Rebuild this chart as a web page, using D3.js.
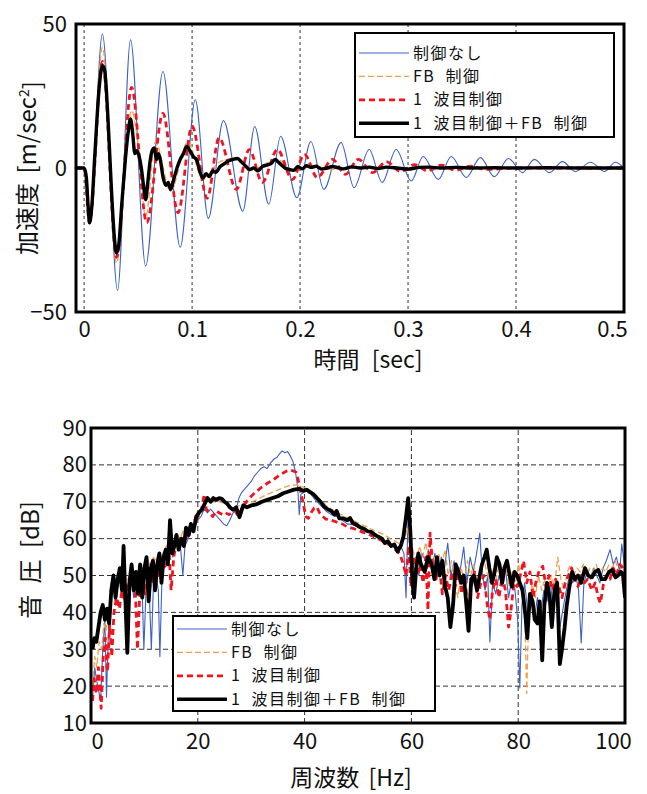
<!DOCTYPE html>
<meta charset="utf-8">
<script src="https://d3js.org/d3.v7.min.js"></script>
<style>
  body { margin: 0; background: #fff; }
  text { font-family: "Noto Sans CJK JP", "Noto Sans", sans-serif; fill: #111; }
</style>
<div id="chart"></div>
<script>

// legend entries (same order in both panels)
var seriesNames = ["制御なし", "FB 制御", "1 波目制御", "1 波目制御＋FB 制御"];

// ---- acceleration vs time ----
var timeTicks = [0, 0.1, 0.2, 0.3, 0.4, 0.5];
var accTicks = [-50, 0, 50];

var noCtrlT = [-0.0075,0.000,0.005,0.017,0.031,0.043,0.057,0.073,0.089,0.103,0.115,0.129,0.147,0.158,0.171,0.182,0.197,0.210,0.222,0.238,0.250,0.264,0.276,0.289,0.303,0.314,0.328,0.340,0.354,0.367,0.380,0.393,0.406,0.417,0.431,0.443,0.455,0.469,0.482,0.492,0.500];
var noCtrlAcc = [0,0,-19,46.5,-42.5,44.5,-34,33.5,-27.5,23.7,-17.5,16.5,-15,14.4,-12.6,11,-10.3,9.2,-7.4,8.8,-6.8,6.4,-5,6.4,-4.5,4,-4,4,-3.3,3.6,-3,3.3,-1.6,3,-1.6,2.2,-1.2,2,-1.2,2,0];

var fbT = [-0.0075,0.000,0.005,0.017,0.030,0.044,0.050,0.057,0.066,0.080,0.096,0.110,0.125,0.142,0.153,0.179,0.193,0.210,0.230,0.250,0.300,0.500];
var fbAcc = [0,0,-19,42,-33,20,8,-17,9,-8,9,-4,2,3.5,-1,3,-1,1,-0.5,0.5,0,0];

var firstT = [-0.0075,0.000,0.005,0.017,0.030,0.044,0.058,0.073,0.087,0.100,0.114,0.125,0.141,0.153,0.165,0.179,0.193,0.204,0.216,0.230,0.242,0.254,0.267,0.280,0.293,0.306,0.318,0.331,0.344,0.358,0.372,0.400,0.500];
var firstAcc = [0,0,-19,37,-31,28,-19,19,-15.5,14.5,-10.5,10.5,-7.4,6.4,-5,6.4,-4,4.7,-3.3,3,-2.2,3,-1.6,2.2,-1.2,1.2,-1,1,-0.8,0.6,-0.5,0,0];

var bothT = [-0.0075,0.000,0.002,0.004,0.005,0.007,0.010,0.014,0.017,0.019,0.022,0.025,0.028,0.030,0.032,0.035,0.038,0.041,0.043,0.045,0.047,0.049,0.051,0.053,0.055,0.057,0.059,0.061,0.063,0.065,0.067,0.069,0.071,0.073,0.076,0.078,0.080,0.083,0.086,0.089,0.092,0.095,0.098,0.101,0.104,0.107,0.110,0.113,0.116,0.119,0.122,0.126,0.130,0.134,0.138,0.142,0.146,0.150,0.153,0.157,0.161,0.165,0.169,0.173,0.177,0.180,0.183,0.186,0.190,0.194,0.198,0.202,0.206,0.210,0.215,0.220,0.225,0.230,0.235,0.240,0.248,0.256,0.264,0.272,0.280,0.290,0.300,0.310,0.320,0.330,0.345,0.360,0.380,0.400,0.430,0.460,0.500];
var bothAcc = [0,0,-3,-15,-19,-14,5,28,35.5,34,18,-5,-24,-29.5,-27,-12,2,13,17,12,5,6,4,0,-6,-11,-5,2,6,7,3,5,2,-3,-6,-5,-7.5,-4,0,3,5,7.5,6,4,3,-1,-3.5,-2,-3,-1,-1.5,0.5,1.5,2.5,3,3.3,2,0.5,-0.5,0,-1,0.5,1,1.5,3,2,1,0,-0.5,-0.8,0.5,-0.3,0.8,0.2,0.6,-0.4,0,0.5,0.1,-0.3,0.4,0,0.3,-0.2,0.3,0,-0.4,0.2,0.3,0,0.2,0,0.1,0,0.1,0,0];

// ---- sound pressure vs frequency ----
var freqTicks = [0, 20, 40, 60, 80, 100];
var dbTicks = [10, 20, 30, 40, 50, 60, 70, 80, 90];

var noCtrlF = [0.3,0.7,1.0,1.4,1.8,2.2,2.6,2.9,3.3,3.8,4.2,4.6,5.0,5.5,6.0,6.5,7.0,7.5,8.0,8.5,9.0,9.5,9.9,10.3,10.8,11.3,11.7,12.2,12.6,12.9,13.3,13.8,14.3,14.8,15.3,15.8,16.3,16.8,17.2,17.6,18.2,18.8,19.4,20.0,20.6,21.2,21.8,22.4,23.0,23.6,24.2,24.8,25.4,26.0,26.6,27.2,27.7,28.2,28.8,29.4,30.0,30.6,31.2,31.8,32.4,33.0,33.6,34.2,34.8,35.3,35.8,36.3,36.8,37.3,37.8,38.3,38.7,39.0,39.3,39.8,40.5,41.2,42.0,43.0,44.0,45.0,46.0,47.0,48.0,49.0,50.0,51.0,52.0,53.0,54.0,55.0,56.0,57.0,58.0,58.6,59.0,59.4,59.8,60.3,60.8,61.4,62.0,62.6,63.2,63.8,64.4,65.0,65.6,66.2,66.8,67.4,68.0,68.6,69.2,69.8,70.4,71.0,71.6,72.2,72.8,73.3,73.8,74.3,74.7,75.2,75.8,76.4,77.0,77.6,78.2,78.8,79.4,79.9,80.3,80.7,81.2,81.8,82.4,83.0,83.6,84.2,84.8,85.4,86.0,86.6,87.2,87.8,88.4,89.0,89.6,90.2,90.8,91.3,91.8,92.3,92.9,93.5,94.1,94.7,95.3,95.9,96.5,97.2,97.8,98.4,99.0,99.4,99.8,100.0];
var noCtrlDb = [17,25,22,19,16,30,38,17,36,44,48,42,47,50,54,44,48,50,44,48,45,50,30,46,50,30,48,50,46,28,50,53,54,60,55,58,59,57,50,58,60,62,63,65,66,68,67,68,67,66,65,64,63.5,65,67,68,71,72.5,73.5,74.5,75.5,77,78,79,79.5,79,80.5,81.5,82,83,83.8,83.3,83.6,82.5,81,78,74,66.5,72,72.5,73,72,70.5,69,67.5,66.5,66,65,64,63.8,63,62.5,62,61,60.5,59.5,58.5,57.5,58,56,44,68,60,52,55,50,56,54,57,52,56,50,55,52,58.8,50,54,49,52,57.7,48,55,51,56,61.5,50,46,50,32,48,45,50,47,52,44,49,46,38,19.5,42,48,40,45,38,44,40,46,43,48,41,46,36,41,46,50,48,50,46,31.7,48,51,49,52,50,48,52,54,57,53,55,51,58.5,54,52];

var fbF = [0.3,0.7,1.1,1.5,2.0,2.4,2.8,3.2,3.7,4.2,4.7,5.2,5.7,6.2,6.7,7.2,7.7,8.2,8.7,9.2,9.7,10.2,10.7,11.2,11.7,12.2,12.7,13.2,13.7,14.2,14.7,15.2,15.7,16.2,16.7,17.2,17.7,18.2,18.7,19.2,19.7,20.2,20.8,21.4,22.0,22.6,23.2,23.8,24.4,25.0,25.6,26.2,26.8,27.4,28.0,29.0,30.0,31.0,32.0,33.0,34.0,35.0,36.0,37.0,38.0,39.0,40.0,41.0,42.0,43.0,44.0,45.0,46.0,47.0,48.0,49.0,50.0,51.0,52.0,53.0,54.0,55.0,56.0,57.0,58.0,58.7,59.3,59.8,60.3,60.9,61.5,62.1,62.7,63.3,63.9,64.5,65.1,65.7,66.3,66.9,67.5,68.1,68.7,69.3,69.9,70.5,71.1,71.7,72.3,72.9,73.5,74.1,74.7,75.3,75.9,76.5,77.1,77.7,78.3,78.9,79.5,80.1,80.7,81.2,81.6,82.0,82.6,83.2,83.8,84.4,85.0,85.6,86.2,86.8,87.4,88.0,88.6,89.2,89.8,90.4,91.0,91.6,92.2,92.8,93.4,94.0,94.6,95.2,95.8,96.4,97.0,97.6,98.2,98.8,99.4,100.0];
var fbDb = [20,28,25,32,30,37,35,40,44,47,45,50,48,53,47,51,53,49,52,50,53,51,54,52,55,54,56,55,57,58,62,58,60,61,60,62,61,63,64,65,66,67,68.5,70,70.5,70,70.5,70.2,69.8,69.5,69,68.5,68.3,68.8,69,69.5,70,70.5,71.3,72,72.6,73.2,73.8,74.3,74.6,74.4,73.8,73.2,72,70.5,69,68,67.2,66.4,65.6,65,64.3,63.6,63,62.2,61.6,61,60,59.3,58.4,60,63,55,57,53,58,55,59,54,57,52,56,53,57,50,54,48,44,52,49,54,50,53,48,52,55,51,48,52,49,54,50,52,47,51,48,53,46,40,18,42,48,44,50,46,49,45,50,47,55,49,46,51,53,50,52,51,53,50,52,51,53,50,52,51,53,52,54,51,53,51];

var firstF = [0.3,0.6,1.0,1.4,1.9,2.3,2.7,3.1,3.5,3.9,4.3,4.8,5.3,5.8,6.3,6.8,7.3,7.8,8.3,8.7,9.1,9.6,10.1,10.6,11.1,11.6,12.1,12.6,13.1,13.6,14.1,14.6,15.0,15.5,16.0,16.5,17.0,17.5,18.0,18.5,19.0,19.5,20.0,20.6,21.2,21.6,22.2,22.8,23.4,24.0,24.6,25.2,25.8,26.4,27.0,27.6,28.2,28.8,29.4,30.0,30.6,31.2,31.8,32.4,33.0,33.6,34.2,34.8,35.4,36.0,36.6,37.2,37.8,38.4,38.8,39.2,39.7,40.2,40.7,41.2,41.8,42.3,42.8,43.4,44.0,45.0,46.0,47.0,48.0,49.0,50.0,51.0,52.0,53.0,54.0,55.0,56.0,57.0,57.8,58.5,59.0,59.5,59.9,60.4,61.0,61.6,62.2,62.7,63.1,63.5,64.0,64.6,65.2,65.8,66.4,67.0,67.6,68.2,68.8,69.4,70.0,70.6,71.2,71.8,72.4,73.0,73.6,74.2,74.7,75.2,75.8,76.4,77.0,77.6,78.2,78.6,79.2,79.8,80.4,81.0,81.6,82.2,82.8,83.4,84.0,84.6,85.2,85.8,86.4,87.0,87.6,88.2,88.8,89.4,90.0,90.6,91.2,91.8,92.4,93.0,93.8,94.4,95.0,95.4,96.0,96.6,97.2,97.8,98.4,99.0,99.6,100.0];
var firstDb = [16,22,18,25,14,28,33,24,37,28,40,44,41,46,43,48,47,50,46,30,44,48,45,50,47,49,52,50,54,53,52,57,46,55,59,57,60,59,61,63,62,64,66,67,72,68,67,66,67.5,67,66.5,67,66.5,67,67.5,66,68,69.5,70.5,71.5,72.3,73,73.8,74.2,75,75.5,76,76.7,77.3,77.8,78.3,78.6,78.4,78,76,73,70,66,65.5,67,68.3,68.6,67,66,65.3,65,64.5,64,63.2,62.8,62.3,61.7,61.2,60.5,59.8,59,58.3,57,56,53,50,58,47,55,50,53,48,55,40.6,61.5,52,49,53,45,50,46,51,47,52,45,50,40,47,51,44,48,50,42,38,46,49,44,50,46,36,40,48,47,50,54,48,51,44,49,51.5,52.5,47,50,46,49,47,44,48,50,52,49,47,50,48,49,46,48,44,42.5,48,50,49,52,50,53,52,50];

var bothF = [0.3,0.6,1.0,1.4,1.8,2.2,2.6,3.0,3.4,3.8,4.2,4.6,5.0,5.4,5.8,6.1,6.4,6.8,7.2,7.6,8.0,8.4,8.8,9.2,9.6,10.0,10.4,10.8,11.2,11.6,12.0,12.4,12.8,13.2,13.6,14.0,14.4,14.8,15.2,15.6,16.0,16.4,16.9,17.4,17.8,18.3,18.7,19.2,19.7,20.2,20.8,21.3,21.8,22.4,22.9,23.5,24.0,24.5,25.0,25.5,26.0,26.6,27.2,27.8,28.5,29.2,30.0,31.0,32.0,33.0,34.0,35.0,36.0,37.0,38.0,39.0,39.7,40.5,41.0,41.7,42.3,43.0,43.6,44.3,45.0,45.6,46.0,46.5,47.2,48.0,48.5,49.0,49.8,50.5,51.2,51.8,52.5,53.2,53.8,54.5,55.0,55.6,56.2,56.8,57.4,58.0,58.5,59.0,59.4,59.8,60.2,60.5,60.9,61.3,61.8,62.5,63.1,63.8,64.3,64.8,65.3,65.8,66.3,66.8,67.3,67.8,68.3,68.8,69.3,69.8,70.3,70.7,71.2,71.7,72.3,72.8,73.2,73.7,74.1,74.6,75.1,75.6,76.0,76.5,77.0,77.4,77.9,78.4,78.8,79.3,79.8,80.3,80.8,81.3,81.7,82.2,82.7,83.1,83.6,84.0,84.5,84.9,85.4,85.9,86.3,86.8,87.3,87.8,88.2,88.7,89.1,89.6,90.1,90.6,91.2,91.8,92.5,93.1,93.8,94.4,95.0,95.6,96.3,97.0,97.6,98.2,98.7,99.2,99.6,100.0];
var bothDb = [30,33,32,36,40,42,38,41,37,46,50,44,49,52,46,58,45,29,48,53,46,51,45,53,44,52,55,43,52,54,46,53,56,48,55,57,53,65,56,58,61,57,60,58,63,61,64,62,66,67,68,69.5,71,70,71,70.5,71,70.8,70,69.5,68.5,67.8,68.5,65.8,69,68.5,69,69.3,70,70.5,71,71.5,72.3,72.8,73.3,73.5,73,73.2,72.6,72,71,70,68.8,68,67.5,66.5,67.5,65.5,65.5,65,65.6,64.3,63.7,63,62.6,62,61.8,61,60.5,60,58.8,59.3,58,58.4,56.5,58,60.5,66,71,62,48,44,52,56,53,51,55,53,49,55,50,54,47,44,36,42,53,51,48,50,42,35,49,50,46,50,53,55,57,52,48,51,55,53,48,52,54,50,47,51,50,48,46,40,33,45,43,38,37,43,27,42,48,44,36,46,48,26,30,36,42,47,51,49,50,48,52,50,49.5,51,51.5,49,49,51,51.5,49.5,50,51,50.5,44];

// ---- styles for the 4 series: 制御なし, FB, 1波目, 1波目+FB ----
var lineColor = ["#3d62c4", "#eda24a", "#f0141e", "#000000"];
var lineWidth = [1.1, 1.3, 2.8, 3.4];
var lineDash  = [null, "6,3", "6,4", null];

var width = 647, height = 794;

var svg = d3.select("#chart")
  .append("svg")
    .attr("width", width)
    .attr("height", height);

// ======== top panel ========
var x1 = d3.scaleLinear().domain([-0.0075, 0.5]).range([76, 624]);
var y1 = d3.scaleLinear().domain([-50, 50]).range([312, 24]);

svg.append("clipPath").attr("id", "clip1")
  .append("rect")
    .attr("x", x1.range()[0]).attr("y", y1.range()[1])
    .attr("width", x1.range()[1] - x1.range()[0])
    .attr("height", y1.range()[0] - y1.range()[1]);

// vertical dashed grid
svg.append("g")
  .selectAll("line")
  .data(timeTicks)
  .enter().append("line")
    .attr("x1", function(d){ return x1(d) }).attr("x2", function(d){ return x1(d) })
    .attr("y1", y1(50)).attr("y2", y1(-50))
    .attr("stroke", "#333").attr("stroke-width", 1)
    .attr("stroke-dasharray", "3,3");

var accData = [
  d3.zip(noCtrlT, noCtrlAcc),
  d3.zip(fbT, fbAcc),
  d3.zip(firstT, firstAcc),
  d3.zip(bothT, bothAcc)
];

var accLine = d3.line()
  .x(function(d){ return x1(d[0]) })
  .y(function(d){ return y1(d[1]) })
  .curve(d3.curveMonotoneX);

svg.append("g")
  .attr("clip-path", "url(#clip1)")
  .selectAll("path")
  .data(accData)
  .enter().append("path")
    .attr("d", accLine)
    .attr("fill", "none")
    .attr("stroke", function(d,i){ return lineColor[i] })
    .attr("stroke-width", function(d,i){ return lineWidth[i] })
    .attr("stroke-dasharray", function(d,i){ return lineDash[i] })
    .attr("stroke-linejoin", "round");

// frame
svg.append("rect")
  .attr("x", x1.range()[0]).attr("y", y1.range()[1])
  .attr("width", x1.range()[1] - x1.range()[0])
  .attr("height", y1.range()[0] - y1.range()[1])
  .attr("fill", "none").attr("stroke", "#000").attr("stroke-width", 3);

// axes
var ax1 = svg.append("g")
  .attr("transform", "translate(0," + y1.range()[0] + ")")
  .call(d3.axisBottom(x1).tickValues(timeTicks).tickSize(0).tickPadding(9)
    .tickFormat(function(d){ return d === 0 ? "0" : d3.format(".1f")(d) }));
var ay1 = svg.append("g")
  .attr("transform", "translate(" + x1.range()[0] + ",0)")
  .call(d3.axisLeft(y1).tickValues(accTicks).tickSize(0).tickPadding(9)
    .tickFormat(function(d){ return d < 0 ? "\u2212" + Math.abs(d) : d }));

[ax1, ay1].forEach(function(a){
  a.select(".domain").remove();
  a.selectAll("text").style("font-size", "22px").attr("fill", "#111")
    .style("font-family", "'Noto Sans CJK JP', sans-serif");
});
ax1.selectAll("text").filter(function(d){ return d === 0.5 }).attr("dx", -12);

svg.append("text")
  .attr("transform", "translate(28," + y1(0) + ") rotate(-90)")
  .attr("text-anchor", "middle")
  .attr("dy", "0.35em")
  .style("font-size", "24px")
  .style("word-spacing", "4px")
  .text("加速度 [m/sec")
  .append("tspan").attr("dy", "-0.5em").style("font-size", "14px").text("2")
  .select(function(){ return this.parentNode })
  .append("tspan").attr("dy", "0.5em").text("]");

svg.append("text")
  .attr("x", 368).attr("y", 368)
  .attr("text-anchor", "middle")
  .style("font-size", "23px")
  .style("word-spacing", "7px")
  .text("時間 [sec]");

// ======== bottom panel ========
var x2 = d3.scaleLinear().domain([0, 100]).range([91, 625]);
var y2 = d3.scaleLinear().domain([10, 90]).range([723, 428]);

svg.append("clipPath").attr("id", "clip2")
  .append("rect")
    .attr("x", x2.range()[0]).attr("y", y2.range()[1])
    .attr("width", x2.range()[1] - x2.range()[0])
    .attr("height", y2.range()[0] - y2.range()[1]);

svg.append("g")
  .selectAll("line")
  .data(freqTicks.slice(1, -1))
  .enter().append("line")
    .attr("x1", function(d){ return x2(d) }).attr("x2", function(d){ return x2(d) })
    .attr("y1", y2(10)).attr("y2", y2(90))
    .attr("stroke", "#333").attr("stroke-width", 1)
    .attr("stroke-dasharray", "5,3");
svg.append("g")
  .selectAll("line")
  .data(dbTicks.slice(1, -1))
  .enter().append("line")
    .attr("x1", x2(0)).attr("x2", x2(100))
    .attr("y1", function(d){ return y2(d) }).attr("y2", function(d){ return y2(d) })
    .attr("stroke", "#333").attr("stroke-width", 1)
    .attr("stroke-dasharray", "5,3");

var dbData = [
  d3.zip(noCtrlF, noCtrlDb),
  d3.zip(fbF, fbDb),
  d3.zip(firstF, firstDb),
  d3.zip(bothF, bothDb)
];

var dbLine = d3.line()
  .x(function(d){ return x2(d[0]) })
  .y(function(d){ return y2(d[1]) });

svg.append("g")
  .attr("clip-path", "url(#clip2)")
  .selectAll("path")
  .data(dbData)
  .enter().append("path")
    .attr("d", dbLine)
    .attr("fill", "none")
    .attr("stroke", function(d,i){ return lineColor[i] })
    .attr("stroke-width", function(d,i){ return i === 3 ? 3.8 : lineWidth[i] })
    .attr("stroke-dasharray", function(d,i){ return lineDash[i] })
    .attr("stroke-linejoin", "round");

svg.append("rect")
  .attr("x", x2.range()[0]).attr("y", y2.range()[1])
  .attr("width", x2.range()[1] - x2.range()[0])
  .attr("height", y2.range()[0] - y2.range()[1])
  .attr("fill", "none").attr("stroke", "#000").attr("stroke-width", 3);

var ax2 = svg.append("g")
  .attr("transform", "translate(0," + y2.range()[0] + ")")
  .call(d3.axisBottom(x2).tickValues(freqTicks).tickSize(0).tickPadding(10));
var ay2 = svg.append("g")
  .attr("transform", "translate(" + x2.range()[0] + ",0)")
  .call(d3.axisLeft(y2).tickValues(dbTicks).tickSize(0).tickPadding(4));

[ax2, ay2].forEach(function(a){
  a.select(".domain").remove();
  a.selectAll("text").style("font-size", "22px").attr("fill", "#111")
    .style("font-family", "'Noto Sans CJK JP', sans-serif");
});
ax2.selectAll("text").filter(function(d){ return d === 0 }).attr("dx", 6);
ax2.selectAll("text").filter(function(d){ return d === 100 }).attr("dx", -12);

svg.append("text")
  .attr("transform", "translate(31," + 560 + ") rotate(-90)")
  .attr("text-anchor", "middle")
  .attr("dy", "0.35em")
  .style("font-size", "24px")
  .style("word-spacing", "6px")
  .text("音 圧 [dB]");

svg.append("text")
  .attr("x", 351).attr("y", 786)
  .attr("text-anchor", "middle")
  .style("font-size", "23px")
  .style("word-spacing", "4px")
  .text("周波数 [Hz]");

// ======== legends ========
function drawLegend(box, rowY) {
  var g = svg.append("g");
  g.append("rect")
    .attr("x", box.x).attr("y", box.y).attr("width", box.w).attr("height", box.h)
    .attr("fill", "#fff").attr("stroke", "#000").attr("stroke-width", 2);
  var row = g.selectAll("g.row")
    .data(seriesNames)
    .enter().append("g")
      .attr("transform", function(d,i){ return "translate(0," + rowY[i] + ")" });
  row.append("line")
    .attr("x1", box.x + 4).attr("x2", box.x + 54)
    .attr("stroke", function(d,i){ return lineColor[i] })
    .attr("stroke-width", function(d,i){ return i === 0 ? 1.2 : lineWidth[i] })
    .attr("stroke-dasharray", function(d,i){ return lineDash[i] });
  row.append("text")
    .attr("x", box.x + 58)
    .attr("dy", "0.35em")
    .style("font-size", "16px")
    .style("letter-spacing", "1.5px")
    .style("word-spacing", "5px")
    .text(function(d){ return d });
}

drawLegend({x: 355, y: 33, w: 259, h: 104}, [53, 76.4, 99.8, 123.2]);
drawLegend({x: 173, y: 616, w: 262, h: 95}, [629, 652.4, 675.8, 699.2]);

</script>
